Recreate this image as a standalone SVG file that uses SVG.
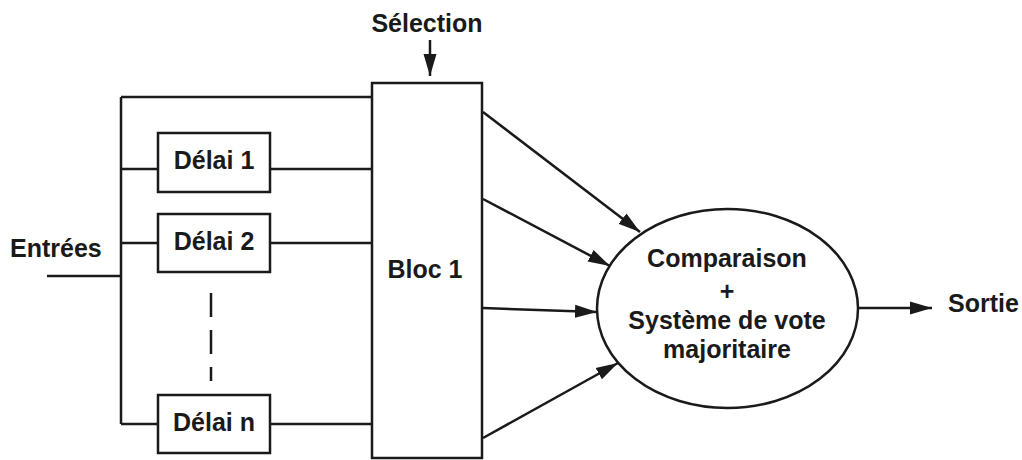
<svg xmlns="http://www.w3.org/2000/svg" width="1022" height="460" viewBox="0 0 1022 460">
<style>
.ln{fill:none;stroke:#1a1a1a;stroke-width:2.5}
.bx{fill:#fff;stroke:#1a1a1a;stroke-width:2.5}
.t{font-family:"Liberation Sans",Arial,sans-serif;font-weight:bold;font-size:25px;fill:#1a1a1a}
.m{text-anchor:middle}
</style>
<defs>
<marker id="ah" markerUnits="userSpaceOnUse" markerWidth="22" markerHeight="14" refX="22" refY="7" orient="auto">
<path d="M0,0.5 L22,7 L0,13.5 z" fill="#1a1a1a"/>
</marker>
</defs>
<rect width="1022" height="460" fill="#fff"/>
<g id="connectors">
<path class="ln" d="M47,276 H121 M121,97 V424 M121,97 H372 M121,169 H158 M270,169 H372 M121,243 H158 M270,243 H372 M121,424 H158 M270,424 H372"/>
<line class="ln" x1="211" y1="293" x2="211" y2="381" stroke-dasharray="24 13"/>
<line class="ln" x1="430" y1="40" x2="430" y2="76" marker-end="url(#ah)"/>
<line class="ln" x1="483" y1="112" x2="640" y2="232" marker-end="url(#ah)"/>
<line class="ln" x1="483" y1="199" x2="610" y2="266" marker-end="url(#ah)"/>
<line class="ln" x1="483" y1="308" x2="597" y2="312" marker-end="url(#ah)"/>
<line class="ln" x1="483" y1="438" x2="618" y2="363" marker-end="url(#ah)"/>
<line class="ln" x1="858" y1="308" x2="932" y2="308" marker-end="url(#ah)"/>
</g>
<g id="entrees"><text class="t" x="10" y="257">Entrées</text></g>
<g id="selection"><text class="t m" x="427" y="32">Sélection</text></g>
<g id="sortie"><text class="t" x="948" y="312">Sortie</text></g>
<g id="delai1"><rect class="bx" x="158" y="133" width="112" height="59"/><text class="t m" x="214" y="169">Délai 1</text></g>
<g id="delai2"><rect class="bx" x="158" y="214" width="112" height="58"/><text class="t m" x="214" y="250">Délai 2</text></g>
<g id="delain"><rect class="bx" x="158" y="395" width="112" height="58"/><text class="t m" x="214" y="431">Délai n</text></g>
<g id="bloc1"><rect class="bx" x="372" y="83" width="110" height="375"/><text class="t m" x="425" y="278">Bloc 1</text></g>
<g id="vote"><ellipse class="bx" cx="727.5" cy="308.5" rx="130.5" ry="99.5"/>
<text class="t m" x="727" y="267">Comparaison</text>
<text class="t m" x="727" y="300">+</text>
<text class="t m" x="727" y="329">Système de vote</text>
<text class="t m" x="727" y="358">majoritaire</text></g>
</svg>
